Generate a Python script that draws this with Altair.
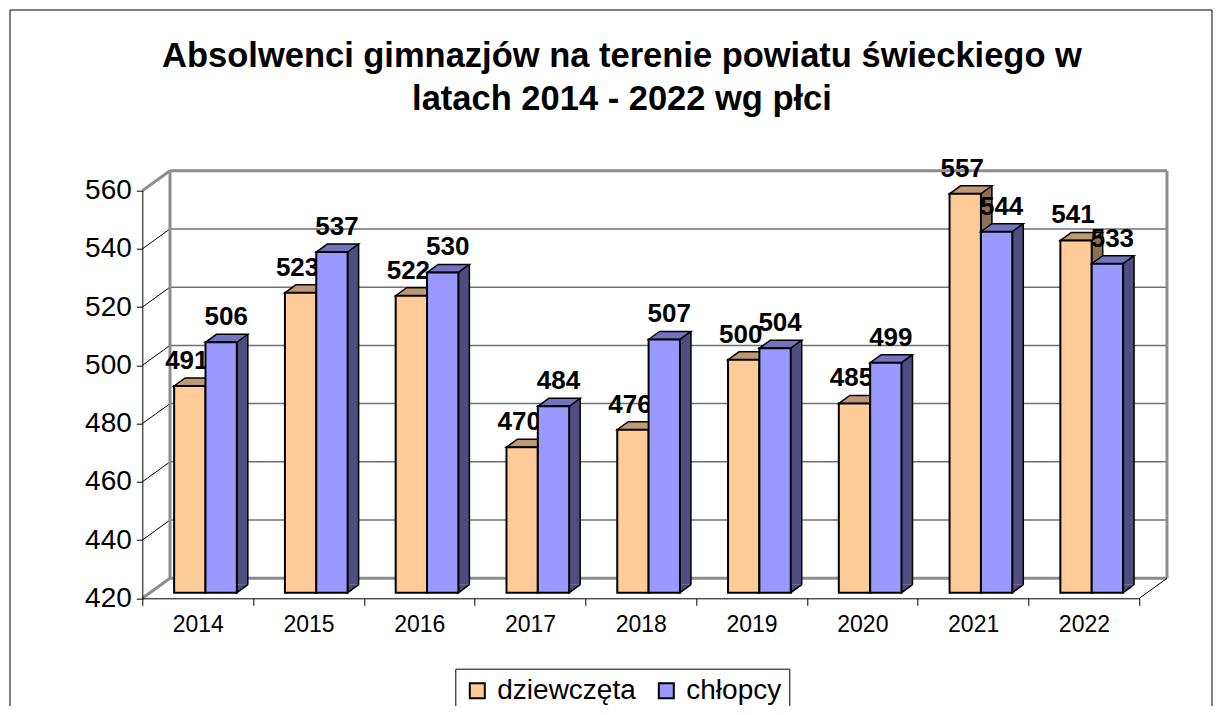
import altair as alt
import pandas as pd

# ---------------- data ----------------
YEARS = [2014, 2015, 2016, 2017, 2018, 2019, 2020, 2021, 2022]
GIRLS = [491, 523, 522, 470, 476, 500, 485, 557, 541]
BOYS = [506, 537, 530, 484, 507, 504, 499, 544, 533]
SERIES = ["dziewczęta", "chłopcy"]
Y_TICKS = [420, 440, 460, 480, 500, 520, 540, 560]
TITLE_LINES = ["Absolwenci gimnazjów na terenie powiatu świeckiego w",
               "latach 2014 - 2022 wg płci"]

# ---------------- style ----------------
FRONT = ["#FFCC99", "#9999FF"]
TOP = ["#BF9973", "#7373BF"]
SIDE = ["#8C7054", "#4D4D80"]
FONT = "Liberation Sans, Arial, sans-serif"

W, H = 997, 407.6
PAD = {"left": 134.3, "top": 182.7, "right": 75, "bottom": 108}
G = 0.283            # bar width as fraction of a year band
DX, DY = 11, 8       # bar depth
BX, BY = 7.8, -5.6   # bars sit slightly behind the front plane
WX, WY = 27.7, -20   # wall depth
BW = G * W / len(YEARS)
YMIN, YMAX = Y_TICKS[0], Y_TICKS[-1]
LDX = [-3, 5]

TOP_PATH = f"M0,0 L{BW:.2f},0 L{BW + DX:.2f},{-DY} L{DX},{-DY} Z"
TRI_PATH = f"M0,{-DY} L0,0 L{DX},{-DY}"

rows = []
for i, yr in enumerate(YEARS):
    rows.append({"year": yr, "idx": i, "s": 0, "series": SERIES[0], "value": GIRLS[i]})
    rows.append({"year": yr, "idx": i, "s": 1, "series": SERIES[1], "value": BOYS[i]})
bars = pd.DataFrame(rows)
grid_df = pd.DataFrame({"v": Y_TICKS})
one = pd.DataFrame({"k": [0]})

xq = alt.Scale(domain=[0, len(YEARS)], nice=False, zero=False)
ys = alt.Scale(domain=[YMIN, YMAX], nice=False, zero=False)
yaxis = alt.Axis(values=Y_TICKS, title=None, grid=False, domainColor="black", domainWidth=1,
                 tickColor="black", tickSize=6, labelFont=FONT, labelFontSize=28, labelColor="black",
                 labelPadding=5, zindex=1)


def Yf(field):
    return alt.Y(field, scale=ys, axis=yaxis)


def Yd(val):
    return alt.Y(datum=val, scale=ys, axis=yaxis)


# ---------------- frame / title ----------------
border = alt.Chart(one).mark_rect(fill="white", fillOpacity=0, stroke="black", strokeWidth=1).encode(
    x=alt.value(-132.3), x2=alt.value(1069.7), y=alt.value(-180.7), y2=alt.value(H + PAD["bottom"] + 30))

title_layers = []
for line, yy in zip(TITLE_LINES, [-124, -80.7]):
    title_layers.append(
        alt.Chart(pd.DataFrame({"t": [line]})).mark_text(
            font=FONT, fontSize=34.5, fontWeight="bold", color="black", align="center", baseline="alphabetic"
        ).encode(text="t:N", x=alt.value(479.7), y=alt.value(yy)))

# ---------------- walls ----------------
grid_thin = alt.Chart(grid_df).transform_filter(f"datum.v > {YMIN} && datum.v < {YMAX}").mark_rule(
    color="#707070", strokeWidth=1.5, yOffset=WY).encode(
    y=Yf("v:Q"), x=alt.value(WX), x2=alt.value(W + WX))

grid_edge = alt.Chart(grid_df).transform_filter(f"datum.v == {YMIN} || datum.v == {YMAX}").mark_rule(
    color="#8c8c8c", strokeWidth=3, yOffset=WY).encode(
    y=Yf("v:Q"), x=alt.value(WX), x2=alt.value(W + WX))

diag_thin = alt.Chart(grid_df).transform_filter(f"datum.v > {YMIN} && datum.v < {YMAX}").mark_rule(
    color="black", strokeWidth=1, y2Offset=WY).encode(
    y=Yf("v:Q"), y2="v:Q", x=alt.value(0), x2=alt.value(WX))

diag_edge = alt.Chart(grid_df).transform_filter(f"datum.v == {YMIN} || datum.v == {YMAX}").mark_rule(
    color="#8c8c8c", strokeWidth=3, y2Offset=WY).encode(
    y=Yf("v:Q"), y2="v:Q", x=alt.value(0), x2=alt.value(WX))

back_left = alt.Chart(one).mark_rule(color="#8c8c8c", strokeWidth=3, yOffset=WY, y2Offset=WY).encode(
    x=alt.value(WX), y=Yd(YMAX), y2=alt.datum(YMIN))
back_right = alt.Chart(one).mark_rule(color="#8c8c8c", strokeWidth=3, yOffset=WY, y2Offset=WY).encode(
    x=alt.value(W + WX), y=Yd(YMAX), y2=alt.datum(YMIN))
floor_right = alt.Chart(one).mark_rule(color="black", strokeWidth=1, y2Offset=WY).encode(
    x=alt.value(W), x2=alt.value(W + WX), y=Yd(YMIN), y2=alt.datum(YMIN))

# ---------------- x axis (band) ----------------
xaxis = alt.Chart(pd.DataFrame({"year": YEARS})).mark_point(opacity=0).encode(
    x=alt.X("year:O", scale=alt.Scale(paddingInner=0, paddingOuter=0),
            axis=alt.Axis(title=None, labelAngle=0, domainColor="black", domainWidth=1,
                          tickColor="black", tickSize=7, tickBand="extent", labelFont=FONT,
                          labelFontSize=23, labelColor="black", labelPadding=8, zindex=1)),
    y=alt.value(0))

# ---------------- bars ----------------
base = alt.Chart(bars).transform_calculate(
    x0=f"datum.idx + 0.5 + (datum.s - 1) * {G}"
).transform_calculate(
    x1=f"datum.x0 + {G}", xc=f"datum.x0 + {G / 2}"
)

color = alt.Color("series:N", scale=alt.Scale(domain=SERIES, range=FRONT),
                  legend=alt.Legend(orient="none", legendX=313, legendY=478, direction="horizontal",
                                    title=None, symbolType="square", symbolSize=225,
                                    symbolStrokeColor="black", symbolStrokeWidth=2, symbolOpacity=1,
                                    labelFont=FONT, labelFontSize=28, labelColor="black",
                                    labelOffset=6, columnPadding=16, padding=8,
                                    strokeColor="black", fillColor="white"))


def series_layers(k):
    b = base.transform_filter(f"datum.s == {k}")
    X0 = alt.X("x0:Q", scale=xq, axis=None)
    X1 = alt.X("x1:Q", scale=xq, axis=None)
    XC = alt.X("xc:Q", scale=xq, axis=None)
    YV = Yf("value:Q")
    side = b.mark_rect(color=SIDE[k], xOffset=BX, x2Offset=BX + DX, yOffset=BY - DY, y2Offset=BY - DY).encode(
        x=X1, x2="x1:Q", y=YV, y2=alt.datum(YMIN))
    edge = b.mark_rule(color="black", strokeWidth=1.5, xOffset=BX + DX, yOffset=BY - DY, y2Offset=BY - DY).encode(
        x=X1, y=YV, y2=alt.datum(YMIN))
    tri = b.mark_point(shape=TRI_PATH, size=4, filled=True, fill=SIDE[k], stroke="black", strokeWidth=1.5,
                       opacity=1, xOffset=BX, yOffset=BY).encode(x=X1, y=Yd(YMIN))
    top = b.mark_point(shape=TOP_PATH, size=4, filled=True, fill=TOP[k], stroke="black", strokeWidth=1.5,
                       opacity=1, xOffset=BX, yOffset=BY).encode(x=X0, y=YV)
    front = b.mark_rect(stroke="black", strokeWidth=2, xOffset=BX, x2Offset=BX, yOffset=BY, y2Offset=BY).encode(
        x=X0, x2="x1:Q", y=YV, y2=alt.datum(YMIN), color=color)
    lab = b.mark_text(font=FONT, fontSize=26, fontWeight="bold", color="black", align="center",
                      baseline="alphabetic", xOffset=BX, yOffset=BY, dx=LDX[k], dy=-17).encode(
        x=XC, y=YV, text="value:Q")
    return [side, edge, tri, top, front, lab]


layers = [border, *title_layers, grid_thin, grid_edge, diag_thin, diag_edge, back_left, back_right,
          floor_right, xaxis] + series_layers(0) + series_layers(1)

chart = alt.layer(*layers).resolve_scale(x="independent").properties(
    width=W, height=H, autosize=alt.AutoSizeParams(type="none"), padding=PAD
).configure(background="white").configure_view(strokeWidth=0)

chart.save("out.html", embed_options={"renderer": "svg", "actions": False})
